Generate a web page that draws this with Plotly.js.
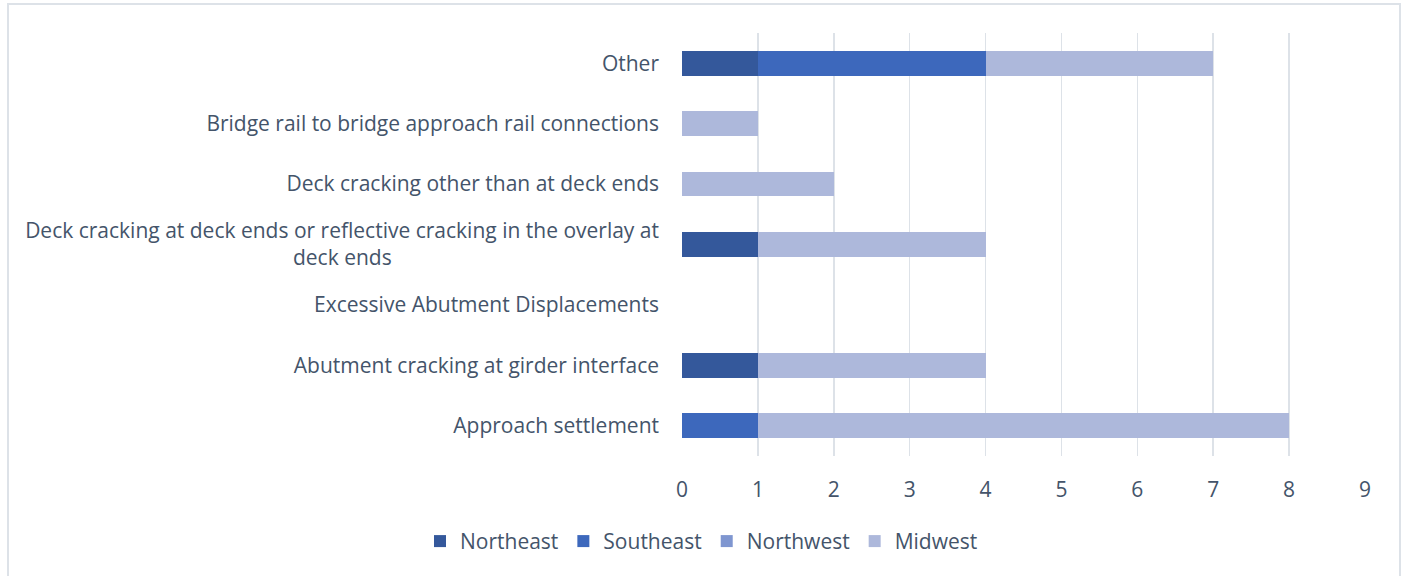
<!DOCTYPE html>
<html><head><meta charset="utf-8">
<script src="https://cdn.plot.ly/plotly-3.0.1.min.js"></script>
<style>
html,body{margin:0;padding:0;background:#fff;overflow:hidden}
#frame{position:absolute;left:7px;top:3px;width:1390px;height:600px;border:2px solid #dde2e8;pointer-events:none;}
#chart{width:1403px;height:576px}
</style></head>
<body>
<div id="chart"></div>
<div id="frame"></div>
<script>
const categories = [
  "Approach settlement",
  "Abutment cracking at girder interface",
  "Excessive Abutment Displacements",
  "Deck cracking at deck ends or reflective cracking in the overlay at<br>deck ends",
  "Deck cracking other than at deck ends",
  "Bridge rail to bridge approach rail connections",
  "Other"
];
const northeast = [0, 1, 0, 1, 0, 0, 1];
const southeast = [1, 0, 0, 0, 0, 0, 3];
const northwest = [0, 0, 0, 0, 0, 0, 0];
const midwest   = [7, 3, 0, 3, 2, 1, 3];
const xTicks = [0,1,2,3,4,5,6,7,8,9];

const series = [
  {name:"Northeast", x:northeast, color:"#34589b"},
  {name:"Southeast", x:southeast, color:"#3d68bc"},
  {name:"Northwest", x:northwest, color:"#7f96d0"},
  {name:"Midwest",   x:midwest,   color:"#adb8db"}
];
const fontFam = "'Open Sans', sans-serif";
const fs = 21;

// centre the lines of a wrapped tick label (Plotly right-aligns them) by padding with no-break spaces
function centreLines(label){
  if(label.indexOf("<br>") < 0) return label;
  const c = document.createElement("canvas").getContext("2d");
  c.font = fs + "px " + fontFam;
  const lines = label.split("<br>");
  const w = lines.map(l => c.measureText(l).width);
  const maxW = Math.max.apply(null, w);
  const sp = c.measureText("\u00a0").width;
  return lines.map((l,i) => {
    const n = Math.round((maxW - w[i]) / 2 / sp);
    return n > 0 ? l + "\u00a0".repeat(n) + "\u200b" : l;
  }).join("<br>");
}

const data = series.map(s => ({
  type:"bar", orientation:"h", name:s.name, y:categories, x:s.x,
  marker:{color:s.color, line:{width:0}}, hoverinfo:"x+name"
}));
const layout = {
  width:1403, height:576,
  barmode:"stack", bargap:0.59,
  paper_bgcolor:"rgba(0,0,0,0)", plot_bgcolor:"rgba(0,0,0,0)",
  margin:{l:682, r:38, t:33, b:120},
  font:{family:fontFam, color:"#44546a", size:fs},
  xaxis:{range:[0,9], tickvals:xTicks, ticktext:xTicks.map(String), showgrid:true,
    gridcolor:"#dde2e8", gridwidth:1.5, zeroline:false, showline:false,
    tickfont:{size:fs, color:"#44546a"}, ticks:"", ticklabelstandoff:19},
  yaxis:{type:"category", categoryorder:"array", categoryarray:categories,
    tickvals:categories, ticktext:categories,
    showgrid:false, zeroline:false, showline:false, ticks:"",
    tickfont:{size:fs, color:"#44546a"}, ticklabelstandoff:22, automargin:false},
  legend:{orientation:"h", x:0.5, xanchor:"center", xref:"container", y:0.06, yref:"container", yanchor:"middle",
    font:{size:fs, color:"#44546a"}, traceorder:"normal", itemwidth:30},
  showlegend:true
};
document.fonts.load(fs + "px 'Open Sans'").then(() => {
  layout.yaxis.ticktext = categories.map(centreLines);
  Plotly.newPlot("chart", data, layout, {displayModeBar:false, staticPlot:true});
});
</script>
</body></html>
